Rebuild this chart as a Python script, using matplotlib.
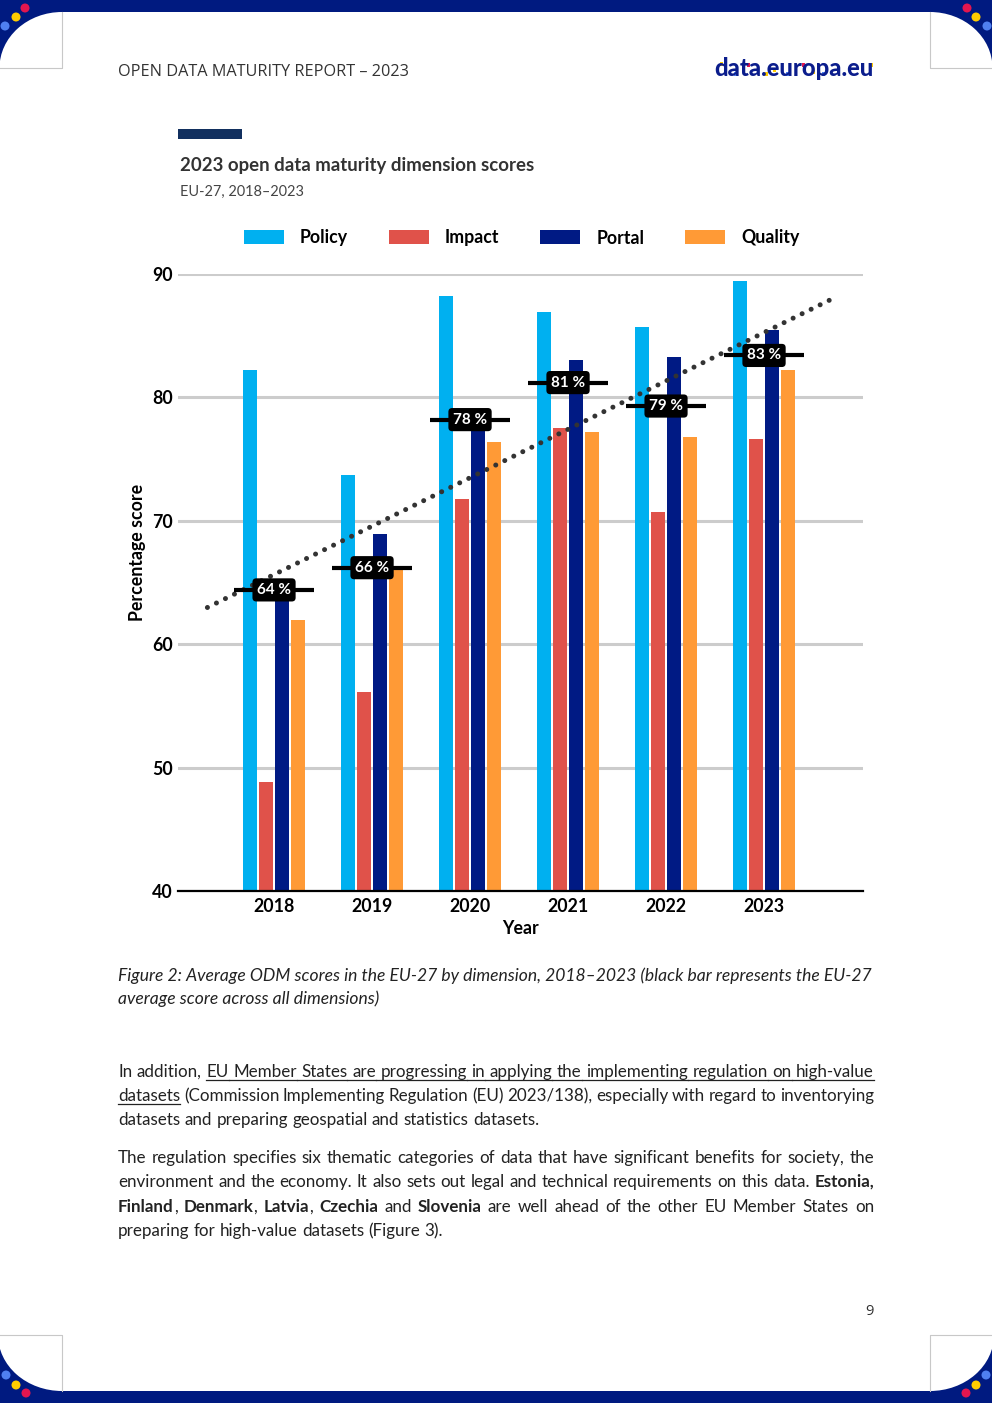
import numpy as np
import matplotlib
matplotlib.use('Agg')
import matplotlib.pyplot as plt
from matplotlib.patches import Rectangle, Ellipse, Patch
from matplotlib.lines import Line2D

W, H = 992, 1403

years = ['2018', '2019', '2020', '2021', '2022', '2023']
policy = [82.2, 73.7, 88.2, 86.9, 85.7, 89.4]
impact = [48.8, 56.1, 71.8, 77.5, 70.7, 76.6]
portal = [64.5, 68.9, 78.0, 83.0, 83.3, 85.5]
quality = [62.0, 66.0, 76.4, 77.2, 76.8, 82.2]
average = [64.4, 66.2, 78.2, 81.2, 79.3, 83.4]
avg_labels = ['64 %', '66 %', '78 %', '81 %', '79 %', '83 %']
series_names = ['Policy', 'Impact', 'Portal', 'Quality']
series_colors = ['#00b0f0', '#e0524a', '#001a84', '#ff9a36']

NAVY = '#001a80'

plt.rcParams['font.family'] = ['Lato', 'DejaVu Sans']

fig = plt.figure(figsize=(W / 100, H / 100), dpi=100)
renderer = fig.canvas.get_renderer()


def fx(x):
    return x / W


def fy(y):
    return 1 - y / H


def text_width(t):
    return t.get_window_extent(renderer).width


def fit(t, width):
    # scale font size so the text spans the given pixel width
    t.set_fontsize(t.get_fontsize() * width / text_width(t))
    return t


# ---------------- page decoration ----------------
fig.add_artist(Rectangle((0, fy(12)), 1, 12 / H, transform=fig.transFigure, color=NAVY, lw=0))
fig.add_artist(Rectangle((0, 0), 1, 12 / H, transform=fig.transFigure, color=NAVY, lw=0))


def corner(x0, y0, cx, cy, a, b, dots):
    fig.add_artist(Rectangle((fx(x0), fy(y0 + 56)), 62 / W, 56 / H, transform=fig.transFigure,
                             color=NAVY, lw=0))
    fig.add_artist(Ellipse((fx(cx), fy(cy)), 2 * a / W, 2 * b / H, transform=fig.transFigure,
                           color='white', lw=0))
    for (dx, dy, c) in dots:
        fig.add_artist(Ellipse((fx(dx), fy(dy)), 9 / W, 9 / H, transform=fig.transFigure,
                               color=c, lw=0))


red, yellow, blue = '#e3164f', '#ffcc00', '#4f80f0'
corner(0, 12, 62, 68, 62.5, 56, [(25, 8, red), (16, 17, yellow), (5, 26, blue)])
corner(930, 12, 930, 68, 62.5, 56, [(967, 8, red), (976, 17, yellow), (987, 26, blue)])
corner(0, 1335, 62, 1335, 64, 56, [(6, 1375, blue), (16, 1385, yellow), (26, 1393, red)])
corner(930, 1335, 930, 1335, 64, 56, [(986, 1375, blue), (976, 1385, yellow), (966, 1393, red)])
# thin grey frame lines of the corner boxes
for xs, ys in [([62, 62, 0], [12, 68, 68]), ([930, 930, 992], [12, 68, 68]),
               ([0, 62, 62], [1335, 1335, 1391]), ([992, 930, 930], [1335, 1335, 1391])]:
    fig.add_artist(Line2D([fx(v) for v in xs], [fy(v) for v in ys], transform=fig.transFigure,
                          color='#c8c8c8', lw=0.8))

# header
t = fig.text(fx(118), fy(76), 'OPEN DATA MATURITY REPORT \u2013 2023', family=['Open Sans', 'DejaVu Sans'],
             fontsize=10, color='#333333', va='baseline')
fit(t, 289)
t = fig.text(fx(714), fy(76), 'data.europa.eu', fontsize=14, fontweight='black', color='#0b1d8c',
             va='baseline')
fit(t, 160)
# little coloured pixels of the logo
for lx, ly, lc in [(721, 64, yellow), (735, 74, blue), (748, 65, red), (766, 74, yellow),
                   (774, 70, yellow), (787, 74, blue), (803, 65, red), (813, 72, yellow),
                   (823, 74, blue), (871, 65, yellow)]:
    fig.add_artist(Rectangle((fx(lx - 1.5), fy(ly + 1.5)), 3 / W, 3 / H, transform=fig.transFigure,
                             color=lc, lw=0))
fig.text(fx(869), fy(1315), '9', family=['Open Sans', 'DejaVu Sans'], fontsize=10.5,
         color='#333333', ha='center', va='baseline')

# chart title block
fig.add_artist(Rectangle((fx(178), fy(139)), 64 / W, 10 / H, transform=fig.transFigure,
                         color='#12305f', lw=0))
t = fig.text(fx(180), fy(171), '2023 open data maturity dimension scores', fontsize=12,
             fontweight='bold', color='#333333', va='baseline')
fit(t, 352)
t = fig.text(fx(180), fy(196), 'EU-27, 2018\u20132023', fontsize=10, color='#444444', va='baseline')
fit(t, 124)

# ---------------- chart ----------------
ax = fig.add_axes([fx(178), fy(891), 685 / W, 617 / H])
x = np.arange(len(years))
offsets = [-0.245, -0.082, 0.082, 0.245]
for vals, off, col in zip([policy, impact, portal, quality], offsets, series_colors):
    ax.bar(x + off, vals, width=0.138, color=col, zorder=2)

coef = np.polyfit(x, average, 1)
xt = np.array([-0.68, 5.69])
ax.plot(xt, np.polyval(coef, xt), color='#333333', lw=3.6, dashes=(0.01, 2.0),
        dash_capstyle='round', zorder=3)

for xi, v, lab in zip(x, average, avg_labels):
    ax.plot([xi - 0.41, xi + 0.41], [v, v], color='black', lw=3, solid_capstyle='butt', zorder=4)
    ax.text(xi, v, lab, ha='center', va='center', color='white', fontweight='bold', fontsize=11,
            zorder=5, bbox=dict(boxstyle='round,pad=0.3,rounding_size=0.25', fc='black', ec='none'))

ax.set_xlim(-0.98, 6.01)
ax.set_ylim(40, 90)
ax.set_yticks(range(40, 91, 10))
ax.set_xticks(x)
ax.set_xticklabels(years)
ax.yaxis.grid(True, color='#cccccc', lw=2.2)
ax.set_axisbelow(True)
for s in ['top', 'right', 'left']:
    ax.spines[s].set_visible(False)
ax.spines['bottom'].set_color('black')
ax.spines['bottom'].set_linewidth(1.6)
ax.spines['bottom'].set_zorder(6)
ax.tick_params(length=0, labelsize=12.8, labelcolor='black')
ax.tick_params(axis='y', pad=3.6)
ax.tick_params(axis='x', pad=4.8)
plt.setp(ax.get_xticklabels() + ax.get_yticklabels(), fontweight='bold')

ax.set_ylabel('Percentage score', fontsize=12.8, fontweight='bold')
ax.yaxis.set_label_coords(-0.047, 0.549)
ax.set_xlabel('Year', fontsize=12.8, fontweight='bold')
ax.xaxis.set_label_coords(0.5, -0.047)

handles = [Patch(facecolor=c, edgecolor='none', label=n) for n, c in zip(series_names, series_colors)]
ax.legend(handles=handles, loc='center left', bbox_to_anchor=(fx(244), fy(238)),
          bbox_transform=fig.transFigure, ncol=4, frameon=False, borderpad=0, borderaxespad=0,
          prop=dict(weight='bold', size=12.8), handlelength=2.25, handleheight=0.84,
          handletextpad=0.9, columnspacing=2.3)

# ---------------- caption and body text ----------------
t = fig.text(fx(118), fy(981), 'Figure 2: Average ODM scores in the EU-27 by dimension, 2018\u20132023 '
             '(black bar represents the EU-27', fontsize=11, style='italic', color='#222222', va='baseline')
fit(t, 752)
fig.text(fx(118), fy(1004), 'average score across all dimensions)', fontsize=t.get_fontsize(),
         style='italic', color='#222222', va='baseline')


def split_words(segs):
    words = []
    new_word = True
    for txt, style in segs:
        parts = txt.split(' ')
        for i, p in enumerate(parts):
            if i > 0:
                new_word = True
            if p == '':
                continue
            if new_word:
                words.append([])
                new_word = False
            words[-1].append((p, style))
    return words


def draw_line(y, segs, size, justify=True, x0=118, x1=874, color='#222222'):
    words = split_words(segs)
    placed = []
    widths = []
    for w in words:
        items = []
        for p, style in w:
            tt = fig.text(0, fy(y), p, fontsize=size, color=color, va='baseline',
                          fontweight='bold' if style == 'b' else 'normal')
            items.append((tt, text_width(tt), style))
        placed.append(items)
        widths.append(sum(it[1] for it in items))
    if justify and len(words) > 1:
        gap = (x1 - x0 - sum(widths)) / (len(words) - 1)
    else:
        a = fig.text(0, 0, 'a a', fontsize=size)
        b = fig.text(0, 0, 'aa', fontsize=size)
        gap = text_width(a) - text_width(b)
        a.remove()
        b.remove()
    cur = x0
    prev_u_end = None
    for items, ww in zip(placed, widths):
        start = cur
        for tt, w, style in items:
            tt.set_x(fx(cur))
            cur += w
        underlined = all(it[2] == 'u' for it in items)
        if underlined:
            ux0 = prev_u_end if prev_u_end is not None else start
            fig.add_artist(Line2D([fx(ux0), fx(cur)], [fy(y + 2.5), fy(y + 2.5)],
                                  transform=fig.transFigure, color=color, lw=0.9))
            prev_u_end = cur
        else:
            prev_u_end = None
        cur += gap


probe = fig.text(0, 0, 'preparing for high-value datasets (Figure 3).', fontsize=10)
body_size = 10 * 326 / text_width(probe)
probe.remove()

draw_line(1077, [('In addition, ', 'n'),
                 ('EU Member States are progressing in applying the implementing regulation on high-value', 'u')],
          body_size)
draw_line(1101, [('datasets', 'u'),
                 (' (Commission Implementing Regulation (EU) 2023/138), especially with regard to inventorying', 'n')],
          body_size)
draw_line(1125, [('datasets and preparing geospatial and statistics datasets.', 'n')], body_size, justify=False)
draw_line(1163, [('The regulation specifies six thematic categories of data that have significant benefits '
                  'for society, the', 'n')], body_size)
draw_line(1187, [('environment and the economy. It also sets out legal and technical requirements on this data. ', 'n'),
                 ('Estonia,', 'b')], body_size)
draw_line(1212, [('Finland', 'b'), (', ', 'n'), ('Denmark', 'b'), (', ', 'n'), ('Latvia', 'b'), (', ', 'n'),
                 ('Czechia', 'b'), (' and ', 'n'), ('Slovenia', 'b'),
                 (' are well ahead of the other EU Member States on', 'n')], body_size)
draw_line(1236, [('preparing for high-value datasets (Figure 3).', 'n')], body_size, justify=False)

fig.savefig('out.png', dpi=100)
